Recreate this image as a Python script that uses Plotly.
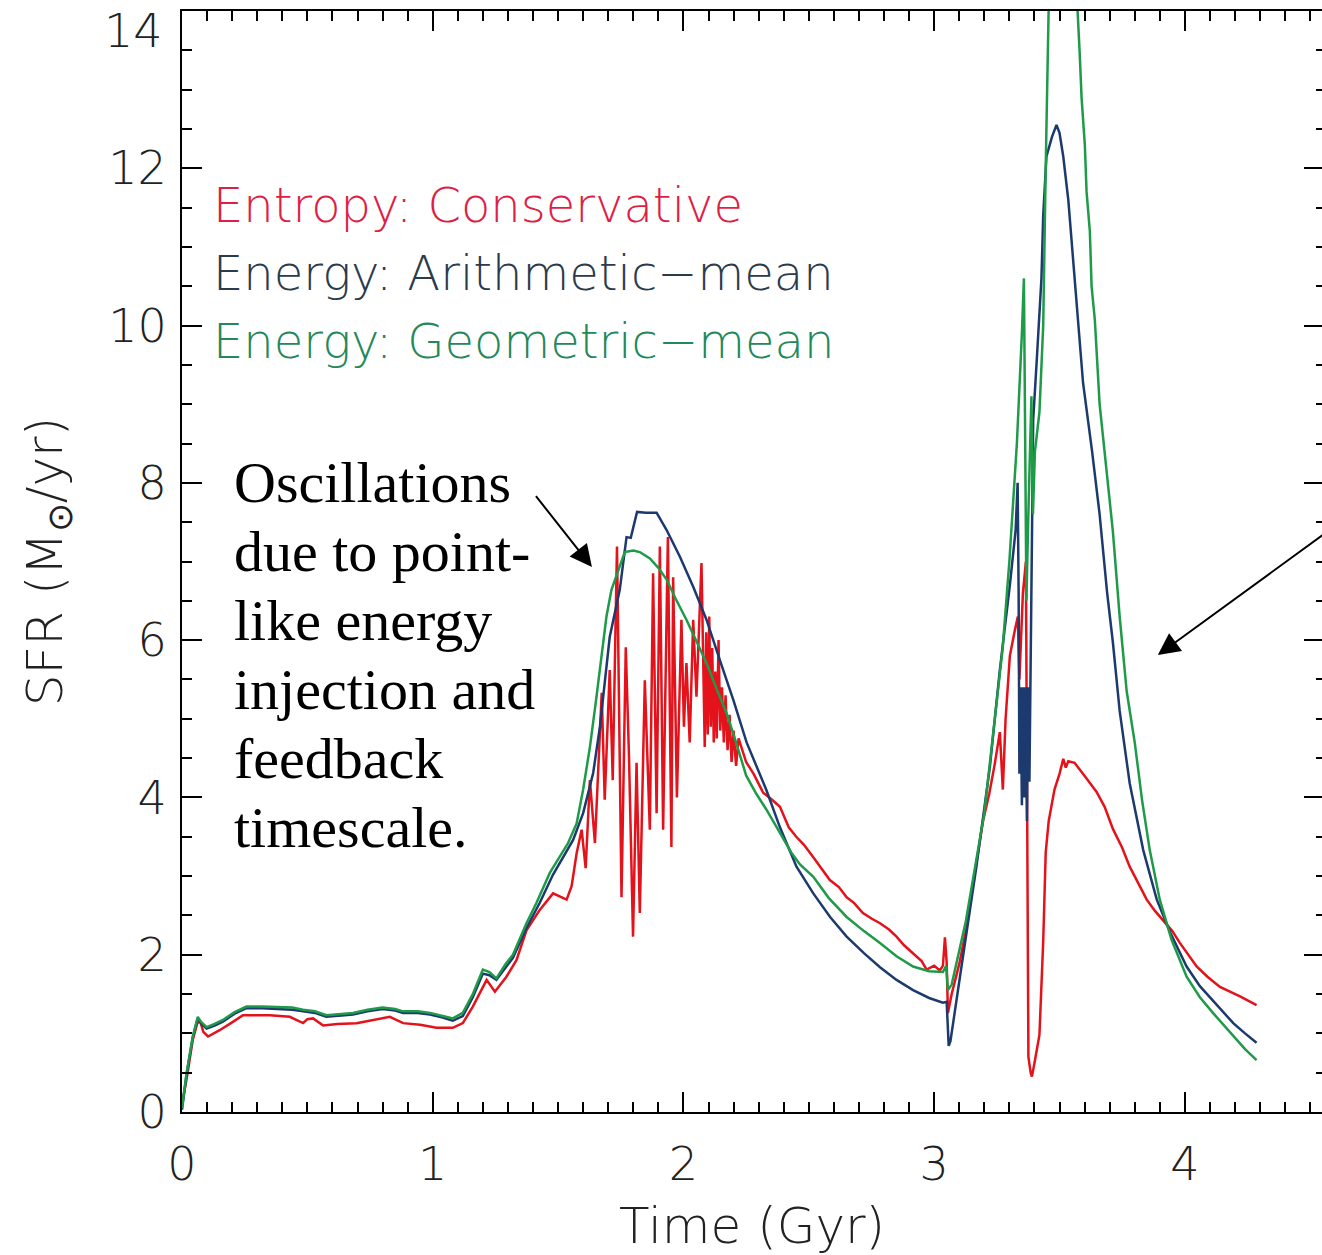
import plotly.graph_objects as go

# ---- Star formation rate histories (time in Gyr, SFR in Msun/yr) ----
t_entropy = [
    0.000, 0.020, 0.043, 0.060, 0.071, 0.085, 0.104, 0.150, 0.200, 0.243,
    0.300, 0.350, 0.430, 0.483, 0.500, 0.523, 0.563, 0.620, 0.696, 0.760,
    0.829, 0.882, 0.950, 1.015, 1.080, 1.120, 1.160, 1.215, 1.248, 1.294,
    1.334, 1.374, 1.427, 1.480, 1.534, 1.554, 1.574, 1.594, 1.610, 1.627,
    1.647, 1.674, 1.686, 1.706, 1.718, 1.735, 1.753, 1.770, 1.783, 1.799,
    1.813, 1.826, 1.846, 1.866, 1.879, 1.893, 1.906, 1.919, 1.938, 1.952,
    1.959, 1.974, 1.992, 2.002, 2.012, 2.025, 2.039, 2.052, 2.072, 2.085,
    2.091, 2.097, 2.103, 2.109, 2.115, 2.121, 2.127, 2.133, 2.140, 2.147,
    2.154, 2.161, 2.168, 2.176, 2.184, 2.192, 2.200, 2.210, 2.220, 2.250,
    2.280, 2.318, 2.350, 2.385, 2.420, 2.450, 2.480, 2.518, 2.550, 2.584,
    2.620, 2.651, 2.680, 2.716, 2.750, 2.784, 2.820, 2.850, 2.880, 2.916,
    2.950, 2.970, 3.000, 3.023, 3.035, 3.043, 3.050, 3.055, 3.070, 3.100,
    3.129, 3.160, 3.195, 3.220, 3.242, 3.262, 3.274, 3.285, 3.302, 3.322,
    3.334, 3.340, 3.354, 3.366, 3.369, 3.372, 3.376, 3.385, 3.390, 3.400,
    3.420, 3.435, 3.445, 3.457, 3.480, 3.500, 3.515, 3.525, 3.535, 3.560,
    3.580, 3.608, 3.648, 3.680, 3.713, 3.750, 3.780, 3.815, 3.848, 3.880,
    3.913, 3.950, 3.980, 4.047, 4.090, 4.140, 4.220, 4.286,
]
sfr_entropy = [
    0.10, 0.45, 0.92, 1.12, 1.17, 1.02, 0.96, 1.04, 1.14, 1.23,
    1.23, 1.23, 1.21, 1.13, 1.18, 1.19, 1.10, 1.12, 1.13, 1.17,
    1.21, 1.13, 1.11, 1.07, 1.07, 1.13, 1.34, 1.68, 1.53, 1.72,
    1.93, 2.31, 2.57, 2.78, 2.70, 2.87, 3.29, 3.59, 3.10, 4.22,
    3.42, 5.33, 3.97, 5.62, 4.22, 7.19, 2.73, 5.91, 4.51, 2.23,
    4.44, 2.53, 5.49, 3.59, 6.85, 3.80, 7.19, 3.59, 7.31, 3.37,
    6.80, 4.00, 6.26, 4.90, 5.71, 4.70, 6.26, 5.28, 6.98, 4.64,
    6.10, 4.80, 6.30, 4.90, 5.90, 4.70, 5.60, 4.75, 6.00, 4.85,
    5.40, 4.70, 5.30, 4.60, 5.05, 4.45, 4.85, 4.40, 4.75, 4.45,
    4.30, 4.06, 3.98, 3.88, 3.62, 3.50, 3.40, 3.24, 3.10, 2.95,
    2.86, 2.73, 2.66, 2.53, 2.46, 2.40, 2.32, 2.23, 2.12, 2.02,
    1.92, 1.81, 1.86, 1.80, 1.86, 2.22, 1.90, 1.26, 1.50, 1.88,
    2.34, 3.00, 3.70, 4.05, 4.43, 4.83, 4.10, 5.00, 5.80, 6.13,
    6.30, 5.50, 6.60, 7.00, 5.00, 2.00, 0.70, 0.50, 0.45, 0.62,
    0.98, 2.17, 3.30, 3.70, 4.10, 4.30, 4.49, 4.38, 4.46, 4.44,
    4.35, 4.24, 4.07, 3.88, 3.60, 3.36, 3.12, 2.90, 2.70, 2.56,
    2.44, 2.30, 2.15, 1.85, 1.72, 1.59, 1.47, 1.36,
]

t_arith = [
    0.000, 0.018, 0.043, 0.063, 0.075, 0.098, 0.130, 0.163, 0.210, 0.257,
    0.320, 0.390, 0.440, 0.483, 0.530, 0.576, 0.630, 0.682, 0.740, 0.800,
    0.850, 0.882, 0.940, 0.989, 1.040, 1.080, 1.120, 1.160, 1.200, 1.226,
    1.254, 1.290, 1.320, 1.374, 1.427, 1.480, 1.560, 1.600, 1.640, 1.667,
    1.706, 1.746, 1.760, 1.773, 1.790, 1.806, 1.815, 1.850, 1.893, 1.933,
    1.986, 2.039, 2.092, 2.145, 2.199, 2.252, 2.330, 2.385, 2.451, 2.518,
    2.585, 2.651, 2.720, 2.784, 2.850, 2.916, 2.980, 3.035, 3.050, 3.058,
    3.065, 3.103, 3.169, 3.222, 3.262, 3.302, 3.325, 3.333, 3.337, 3.340,
    3.345, 3.350, 3.355, 3.360, 3.365, 3.370, 3.375, 3.380, 3.388, 3.395,
    3.410, 3.428, 3.435, 3.448, 3.470, 3.488, 3.500, 3.515, 3.535, 3.553,
    3.573, 3.594, 3.630, 3.660, 3.690, 3.713, 3.740, 3.780, 3.834, 3.888,
    3.942, 4.007, 4.060, 4.112, 4.193, 4.240, 4.286,
]
sfr_arith = [
    0.03, 0.47, 0.95, 1.19, 1.13, 1.06, 1.10, 1.15, 1.25, 1.32,
    1.32, 1.31, 1.30, 1.28, 1.26, 1.21, 1.23, 1.24, 1.28, 1.31,
    1.29, 1.26, 1.26, 1.24, 1.20, 1.16, 1.22, 1.46, 1.76, 1.74,
    1.68, 1.84, 1.96, 2.34, 2.66, 3.02, 3.46, 3.80, 4.31, 4.90,
    6.04, 6.64, 7.00, 7.31, 7.30, 7.53, 7.63, 7.62, 7.62, 7.40,
    7.06, 6.68, 6.26, 5.75, 5.24, 4.70, 4.10, 3.62, 3.12, 2.78,
    2.48, 2.23, 2.02, 1.84, 1.68, 1.55, 1.45, 1.39, 1.40, 0.84,
    0.90, 1.72, 3.13, 4.38, 5.62, 6.70, 7.40, 8.00, 6.60, 4.30,
    5.40, 3.90, 5.40, 4.00, 5.40, 3.70, 5.40, 4.20, 6.30, 8.80,
    9.60, 10.60, 11.40, 12.15, 12.40, 12.55, 12.45, 12.15, 11.60, 10.90,
    10.10, 9.27, 8.40, 7.60, 6.60, 5.97, 5.10, 4.18, 3.33, 2.70,
    2.28, 1.85, 1.60, 1.42, 1.13, 1.00, 0.88,
]

t_geom = [
    0.000, 0.018, 0.043, 0.063, 0.075, 0.098, 0.130, 0.163, 0.210, 0.257,
    0.320, 0.390, 0.440, 0.483, 0.530, 0.576, 0.630, 0.682, 0.740, 0.800,
    0.850, 0.882, 0.940, 0.989, 1.040, 1.080, 1.120, 1.160, 1.200, 1.226,
    1.254, 1.290, 1.320, 1.374, 1.414, 1.467, 1.540, 1.574, 1.600, 1.627,
    1.650, 1.673, 1.693, 1.713, 1.746, 1.766, 1.800, 1.826, 1.866, 1.900,
    1.933, 1.970, 2.012, 2.050, 2.092, 2.130, 2.172, 2.210, 2.250, 2.290,
    2.330, 2.385, 2.430, 2.464, 2.518, 2.580, 2.651, 2.720, 2.784, 2.850,
    2.916, 2.980, 3.035, 3.048, 3.055, 3.070, 3.126, 3.200, 3.273, 3.300,
    3.330, 3.350, 3.358, 3.362, 3.368, 3.375, 3.382, 3.388, 3.394, 3.402,
    3.420, 3.435, 3.445, 3.452, 3.460, 3.510, 3.569, 3.580, 3.588, 3.601,
    3.608, 3.621, 3.628, 3.641, 3.660, 3.713, 3.740, 3.768, 3.800, 3.830,
    3.860, 3.900, 3.947, 4.007, 4.060, 4.112, 4.193, 4.240, 4.286,
]
sfr_geom = [
    0.05, 0.49, 0.96, 1.21, 1.15, 1.08, 1.12, 1.17, 1.27, 1.34,
    1.34, 1.33, 1.33, 1.30, 1.28, 1.23, 1.25, 1.26, 1.30, 1.33,
    1.31, 1.28, 1.28, 1.26, 1.22, 1.19, 1.26, 1.50, 1.81, 1.78,
    1.70, 1.88, 2.00, 2.40, 2.66, 3.04, 3.42, 3.67, 4.10, 4.64,
    5.20, 5.83, 6.30, 6.64, 6.93, 7.12, 7.14, 7.12, 7.04, 6.92,
    6.77, 6.52, 6.26, 6.00, 5.71, 5.40, 5.07, 4.70, 4.28, 4.05,
    3.85, 3.55, 3.30, 3.15, 2.99, 2.72, 2.48, 2.30, 2.15, 1.98,
    1.85, 1.79, 1.78, 1.86, 1.55, 1.62, 2.42, 3.80, 5.89, 7.00,
    8.50, 9.90, 10.60, 9.00, 6.50, 7.50, 8.40, 9.10, 7.60, 8.40,
    8.90, 10.00, 12.00, 13.50, 14.60, 16.20, 14.20, 13.50, 12.90, 12.30,
    11.70, 11.20, 10.50, 10.07, 9.00, 7.38, 6.30, 5.35, 4.70, 3.95,
    3.33, 2.70, 2.19, 1.72, 1.46, 1.26, 0.96, 0.80, 0.66,
]

series_names = ["Entropy: Conservative", "Energy: Arithmetic\u2212mean", "Energy: Geometric\u2212mean"]
line_colors = ["#e3121b", "#1c3a6e", "#1e9a48"]
label_colors = ["#de1f45", "#2b3b4c", "#23895a"]

x_ticks = [0, 1, 2, 3, 4]
y_ticks = [0, 2, 4, 6, 8, 10, 12, 14]
y_top_label = "14"

note_lines = ["Oscillations", "due to point-", "like energy", "injection and", "feedback", "timescale."]

SANS = "DejaVu Sans"
AXIS_FONT = dict(family=SANS, size=46, color="#222222", weight=200)
TITLE_FONT = dict(family=SANS, size=50, color="#222222", weight=200)

fig = go.Figure()
for tx, sy, name, col in zip(
    [t_entropy, t_arith, t_geom],
    [sfr_entropy, sfr_arith, sfr_geom],
    series_names, line_colors,
):
    fig.add_trace(go.Scatter(x=tx, y=sy, mode="lines", name=name,
                             line=dict(color=col, width=2.5), showlegend=False))

# empty trace that anchors the right-hand tick axis
fig.add_trace(go.Scatter(x=[None], y=[None], yaxis="y2", showlegend=False, hoverinfo="skip"))

tick_common = dict(ticks="inside", tickwidth=2, tickcolor="black",
                   showgrid=False, zeroline=False)

fig.update_layout(
    width=1322, height=1255,
    margin=dict(l=182, r=0, t=11, b=143),
    paper_bgcolor="white", plot_bgcolor="white",
    xaxis=dict(range=[0, 4.547], tickvals=x_ticks, ticktext=[str(v) for v in x_ticks],
               showline=True, linecolor="black", linewidth=2, mirror="ticks", ticklen=20,
               minor=dict(dtick=0.1, tick0=0, ticklen=10, tickwidth=2, ticks="inside", tickcolor="black"),
               tickfont=AXIS_FONT, ticklabelstandoff=11,
               title=dict(text="Time (Gyr)", font=TITLE_FONT, standoff=24),
               **tick_common),
    yaxis=dict(range=[0, 14], tickvals=y_ticks,
               ticktext=[str(v) if v != 14 else "" for v in y_ticks],
               showline=True, linecolor="black", linewidth=2, mirror=False, ticklen=20,
               minor=dict(dtick=0.5, tick0=0, ticklen=10, tickwidth=2, ticks="inside", tickcolor="black"),
               tickfont=AXIS_FONT, ticklabelstandoff=4,
               title=dict(text="SFR (M<sub>\u2299</sub>/yr)", font=TITLE_FONT, standoff=30),
               **tick_common),
    yaxis2=dict(range=[0, 14], overlaying="y", side="right", tickvals=y_ticks,
                showticklabels=False, showline=False, ticklen=18,
                minor=dict(dtick=0.5, tick0=0, ticklen=6, tickwidth=2, ticks="inside", tickcolor="black"),
                **tick_common),
)

# top y label sits just below the frame corner
fig.add_annotation(x=-0.0149, y=13.75, xref="paper", yref="y", text=y_top_label,
                   showarrow=False, xanchor="right", yanchor="middle", font=AXIS_FONT)

# series labels written in their line colours
for i, (name, col) in enumerate(zip(series_names, label_colors)):
    fig.add_annotation(x=0.117, y=11.53 - 0.865 * i, xref="x", yref="y",
                       text=name, showarrow=False, xanchor="left", yanchor="middle",
                       font=dict(family=SANS, size=48, color=col, weight=200))

# explanatory note
for i, line in enumerate(note_lines):
    fig.add_annotation(x=0.200, y=8.0 - 0.877 * i, xref="x", yref="y",
                       text=line, showarrow=False, xanchor="left", yanchor="middle",
                       font=dict(family="Liberation Serif", size=58, color="black"))

# arrows
arrow_style = dict(xref="x", yref="y", axref="x", ayref="y", text="", showarrow=True,
                   arrowhead=2, arrowsize=2.2, arrowwidth=2, arrowcolor="black", standoff=0)
fig.add_annotation(x=1.635, y=6.93, ax=1.407, ay=7.85, **arrow_style)
fig.add_annotation(x=3.892, y=5.81, ax=4.62, ay=7.50, **arrow_style)

fig.write_html("out.html")
